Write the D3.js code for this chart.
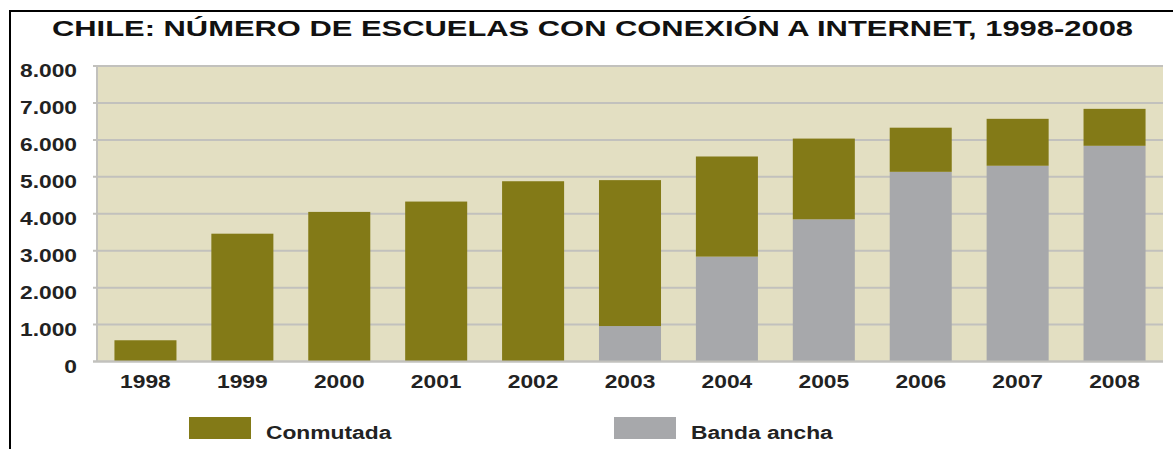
<!DOCTYPE html>
<html>
<head>
<meta charset="utf-8">
<script src="https://cdn.jsdelivr.net/npm/d3@7"></script>
<style>
  body { margin: 0; background: #fff; }
  svg text { font-family: "Liberation Sans", Arial, sans-serif; font-weight: bold; }
</style>
</head>
<body>
<div id="chart"></div>
<script>
// data
var years = ["1998", "1999", "2000", "2001", "2002", "2003", "2004", "2005", "2006", "2007", "2008"];
var banda_ancha = [0, 0, 0, 0, 0, 960, 2840, 3850, 5135, 5300, 5840];
var conmutada = [575, 3460, 4050, 4330, 4880, 3950, 2710, 2185, 1195, 1270, 1000];
var y_ticks = [0, 1000, 2000, 3000, 4000, 5000, 6000, 7000, 8000];
var y_tick_labels = ["0", "1.000", "2.000", "3.000", "4.000", "5.000", "6.000", "7.000", "8.000"];
var series_names = ["Banda ancha", "Conmutada"];
var title = "CHILE: NÚMERO DE ESCUELAS CON CONEXIÓN A INTERNET, 1998-2008";

var width = 1173, height = 449;
var colors = { "Conmutada": "#837a17", "Banda ancha": "#a7a8ab" };
var stretch = 1.2; // the picture's text is wider than plain Arial

var svg = d3.select("#chart").append("svg").attr("width", width).attr("height", height);

// frame (left and top only)
svg.append("path")
    .attr("d", "M10," + height + "V11H" + width)
    .attr("fill", "none").attr("stroke", "#000").attr("stroke-width", 2);

// title, fitted to the width it has in the picture
svg.append("text")
    .attr("x", 52).attr("y", 36)
    .attr("font-size", 22).attr("fill", "#111")
    .attr("textLength", 1081).attr("lengthAdjust", "spacingAndGlyphs")
    .text(title);

var x = d3.scaleBand().domain(years).range([97, 1163]).paddingInner(0.36).paddingOuter(0.18);
var y = d3.scaleLinear().domain([0, 8000]).range([361.5, 66]);

// plot background
svg.append("rect")
    .attr("x", 97).attr("y", y(8000))
    .attr("width", 1163 - 97).attr("height", y(0) - y(8000))
    .attr("fill", "#e3dfc2");

// gridlines
svg.append("g").selectAll("line").data(y_ticks).join("line")
    .attr("x1", 93).attr("x2", 1163)
    .attr("y1", d => y(d)).attr("y2", d => y(d))
    .attr("stroke", "#c2c1bd").attr("stroke-width", 2);

// left axis line
svg.append("line")
    .attr("x1", 97).attr("x2", 97).attr("y1", y(8000)).attr("y2", y(0))
    .attr("stroke", "#c2c1bd").attr("stroke-width", 2);

// stacked bars
var table = years.map((yr, i) => ({ year: yr, "Banda ancha": banda_ancha[i], "Conmutada": conmutada[i] }));
var stacked = d3.stack().keys(series_names)(table);

svg.append("g").selectAll("g").data(stacked).join("g")
    .attr("fill", d => colors[d.key])
    .selectAll("rect").data(d => d).join("rect")
    .attr("x", d => x(d.data.year))
    .attr("width", x.bandwidth())
    .attr("y", d => y(d[1]))
    .attr("height", d => y(d[0]) - y(d[1]));

// bottom axis line over the bars
svg.append("line")
    .attr("x1", 93).attr("x2", 1163).attr("y1", y(0)).attr("y2", y(0))
    .attr("stroke", "#c2c1bd").attr("stroke-width", 2);

function place(px, py) {
    return "translate(" + px + "," + py + ") scale(" + stretch + ",1)";
}

// y labels
svg.append("g").selectAll("text").data(y_ticks).join("text")
    .attr("transform", d => place(77, y(d) + 11))
    .attr("text-anchor", "end").attr("font-size", 19).attr("fill", "#222")
    .text((d, i) => y_tick_labels[i]);

// x labels
svg.append("g").selectAll("text").data(years).join("text")
    .attr("transform", d => place(x(d) + x.bandwidth() / 2, 388))
    .attr("text-anchor", "middle").attr("font-size", 19).attr("fill", "#222")
    .text(d => d);

// legend
var legend = [
    { name: "Conmutada", x: 189 },
    { name: "Banda ancha", x: 614 }
];
var lg = svg.append("g").selectAll("g").data(legend).join("g");
lg.append("rect")
    .attr("x", d => d.x).attr("y", 417).attr("width", 62).attr("height", 22)
    .attr("fill", d => colors[d.name]);
lg.append("text")
    .attr("transform", d => place(d.x + 77, 439))
    .attr("font-size", 19).attr("fill", "#222")
    .text(d => d.name);
</script>
</body>
</html>
